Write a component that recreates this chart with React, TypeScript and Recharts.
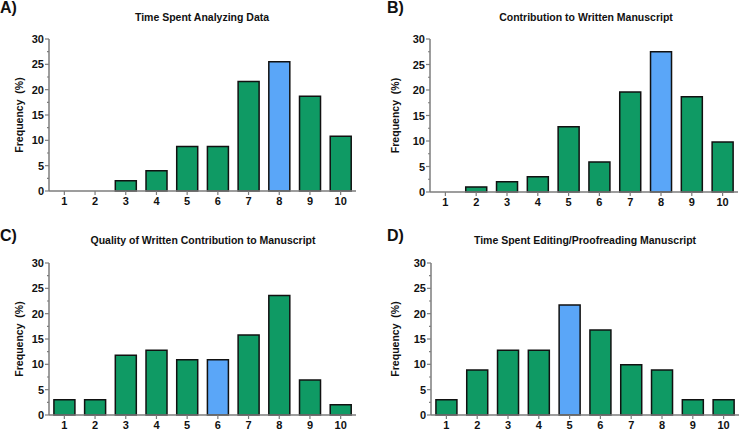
import { BarChart, Bar, XAxis, YAxis, Cell } from 'recharts';

const scores = ['1', '2', '3', '4', '5', '6', '7', '8', '9', '10'];
const yTicks = [0, 2.5, 5, 7.5, 10, 12.5, 15, 17.5, 20, 22.5, 25, 27.5, 30];

const analyzing = [0, 0, 2, 4, 8.8, 8.8, 21.6, 25.5, 18.7, 10.8];
const contribution = [0, 1, 2, 3, 12.8, 5.9, 19.6, 27.5, 18.7, 9.8];
const quality = [3, 3, 11.8, 12.8, 10.9, 10.9, 15.8, 23.6, 6.9, 2];
const editing = [3, 8.9, 12.8, 12.8, 21.7, 16.8, 9.9, 8.9, 3, 3];

const GREEN = '#0f9a64';
const BLUE = '#5aa6f8';
const AXIS = '#7d7d7d';
const FONT = '"Liberation Sans", Arial, sans-serif';

const YTick = (props: any) => {
  const { x, y, payload } = props;
  const major = payload.value % 5 === 0;
  return (
    <g>
      <line x1={x - (major ? 4 : 2)} x2={x} y1={y} y2={y} stroke={AXIS} strokeWidth={1.2} />
      {major && (
        <text x={x - 5} y={y} dy={4} textAnchor="end" fontSize={11} fontWeight="bold" fill="#111" fontFamily={FONT}>
          {payload.value}
        </text>
      )}
    </g>
  );
};

type PanelProps = {
  values: number[];
  highlight: number;
  yWidth: number;
  top: number;
  right: number;
  xHeight: number;
};

const Panel = ({ values, highlight, yWidth, top, right, xHeight }: PanelProps) => {
  const data = scores.map((s, i) => ({ score: s, value: values[i] }));
  return (
    <BarChart width={370} height={216} data={data} margin={{ top, right, left: 0, bottom: 0 }} barCategoryGap="16%">
      <XAxis
        dataKey="score"
        height={xHeight}
        axisLine={{ stroke: AXIS, strokeWidth: 1.5 }}
        tickLine={{ stroke: AXIS, strokeWidth: 1.2 }}
        tickSize={4}
        tickMargin={2}
        interval={0}
        tick={{ fontSize: 11, fontWeight: 'bold', fill: '#111', fontFamily: FONT }}
      />
      <YAxis
        width={yWidth}
        domain={[0, 30]}
        ticks={yTicks}
        interval={0}
        axisLine={{ stroke: AXIS, strokeWidth: 1.5 }}
        tickLine={false}
        tickSize={0}
        tickMargin={0}
        tick={<YTick />}
        label={{
          value: 'Frequency\u00a0\u00a0(%)',
          angle: -90,
          position: 'center',
          dx: -5,
          style: { fontSize: 10.5, fontWeight: 'bold', fill: '#111', fontFamily: FONT },
        }}
      />
      <Bar dataKey="value" stroke="#111" strokeWidth={1.5} isAnimationActive={false}>
        {data.map((d, i) => (
          <Cell key={d.score} fill={i === highlight ? BLUE : GREEN} />
        ))}
      </Bar>
    </BarChart>
  );
};

const titleStyle = (left: number, top: number): React.CSSProperties => ({
  position: 'absolute',
  left,
  top,
  width: 0,
  display: 'flex',
  justifyContent: 'center',
  whiteSpace: 'nowrap',
  fontFamily: FONT,
  fontWeight: 'bold',
  fontSize: 10.5,
  color: '#111',
});

const letterStyle = (left: number, top: number): React.CSSProperties => ({
  position: 'absolute',
  left,
  top,
  fontFamily: FONT,
  fontWeight: 'bold',
  fontSize: 16,
  lineHeight: '16px',
  color: '#111',
});

export default function App() {
  return (
    <div style={{ position: 'absolute', left: 0, top: 0, width: 740, height: 432, background: '#fff' }}>
      <div style={{ position: 'absolute', left: 0, top: 0 }}>
        <Panel values={analyzing} highlight={7} yWidth={49} top={39} right={14} xHeight={25} />
      </div>
      <div style={{ position: 'absolute', left: 370, top: 0 }}>
        <Panel values={contribution} highlight={7} yWidth={60} top={39} right={2} xHeight={24} />
      </div>
      <div style={{ position: 'absolute', left: 0, top: 216 }}>
        <Panel values={quality} highlight={5} yWidth={49} top={47} right={14} xHeight={17} />
      </div>
      <div style={{ position: 'absolute', left: 370, top: 216 }}>
        <Panel values={editing} highlight={4} yWidth={61} top={47} right={1} xHeight={17} />
      </div>

      <div style={letterStyle(0, 0)}>A)</div>
      <div style={letterStyle(387, 0)}>B)</div>
      <div style={letterStyle(0, 228)}>C)</div>
      <div style={letterStyle(387, 228)}>D)</div>

      <div style={titleStyle(202, 11)}>Time Spent Analyzing Data</div>
      <div style={titleStyle(586, 11)}>Contribution to Written Manuscript</div>
      <div style={titleStyle(203, 234)}>Quality of Written Contribution to Manuscript</div>
      <div style={titleStyle(585, 234)}>Time Spent Editing/Proofreading Manuscript</div>
    </div>
  );
}
